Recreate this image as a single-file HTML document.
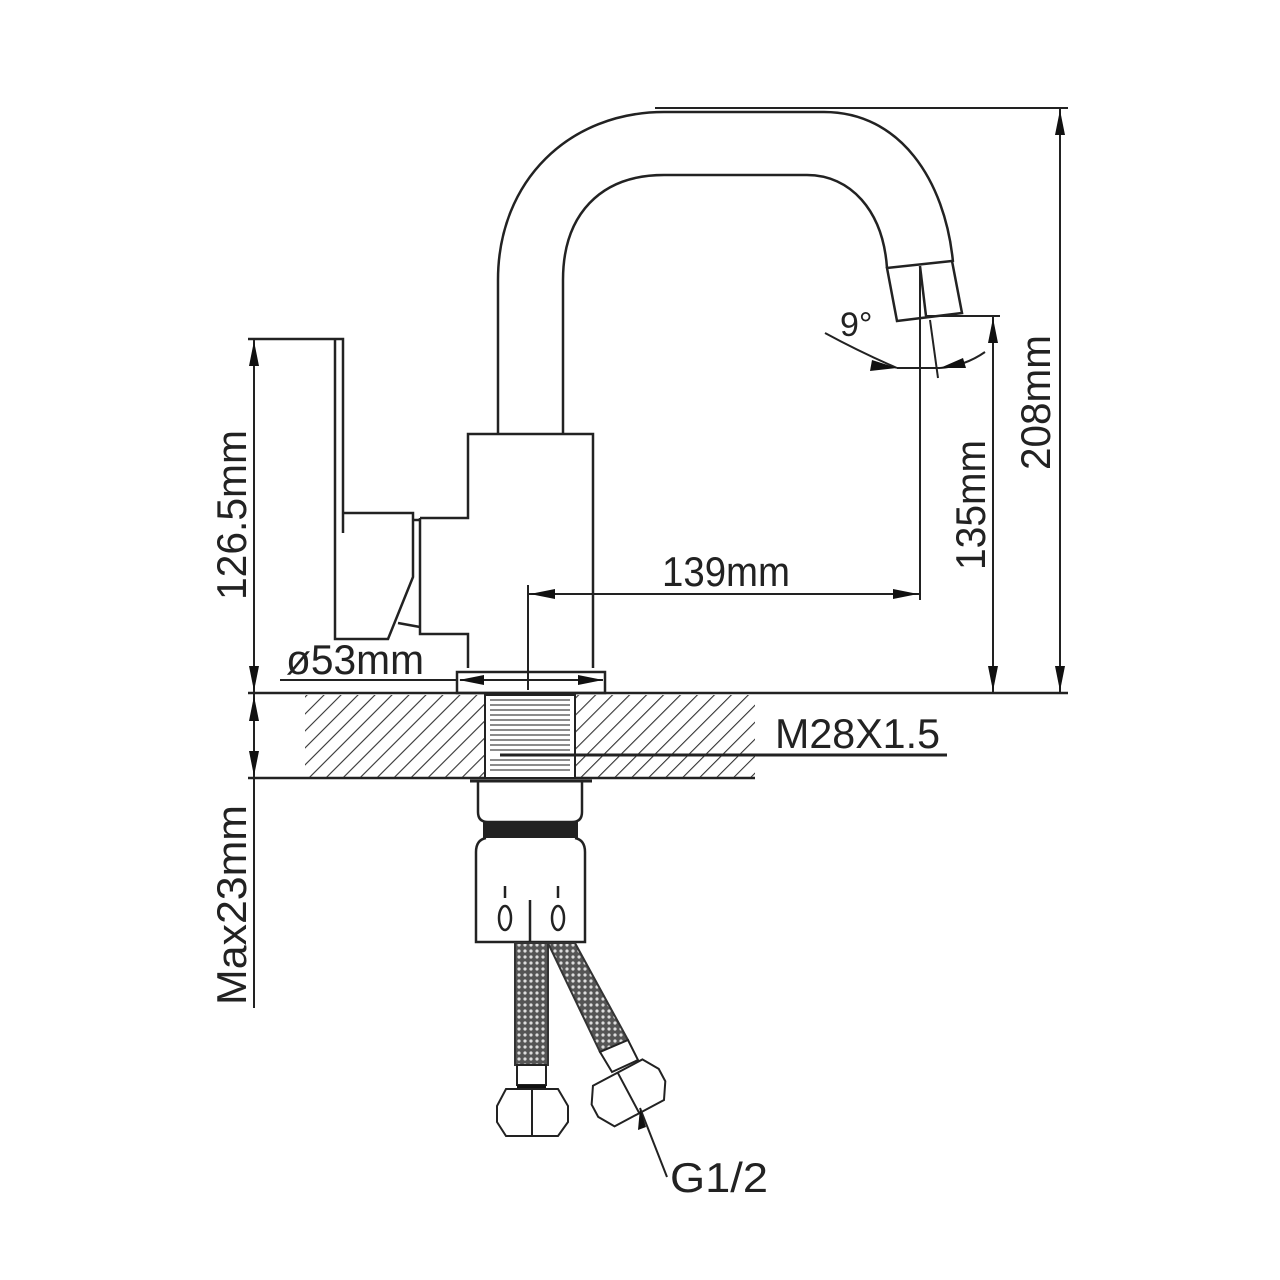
<!DOCTYPE html>
<html><head><meta charset="utf-8"><style>
html,body{margin:0;padding:0;background:#fff;}
svg{display:block;}
text{font-family:"Liberation Sans",sans-serif;fill:#222;}
</style></head><body>
<svg width="1280" height="1280" viewBox="0 0 1280 1280" xmlns="http://www.w3.org/2000/svg">
<defs>
<pattern id="hatch" patternUnits="userSpaceOnUse" width="12" height="12" patternTransform="rotate(45)">
<line x1="0" y1="0" x2="0" y2="12" stroke="#333" stroke-width="2.2"/>
</pattern>
<pattern id="braid" patternUnits="userSpaceOnUse" width="6" height="6">
<rect width="6" height="6" fill="#555"/>
<circle cx="3" cy="3" r="1.6" fill="#ddd"/>
</pattern>
</defs>
<g fill="none" stroke="#222" stroke-width="2.5">
<path d="M498,434 V280 C498,180 570,112 664,112 H824 C900,112 945,180 953,262"/>
<path d="M563,434 V280 C563,215 600,175 664,175 H807 C850,175 883,210 887,268"/>
<polygon points="887,268 952,261 962,313 897,321"/>
<line x1="920" y1="266" x2="926" y2="316"/>
<path d="M420,518 H468 V434 H593 V668"/>
<path d="M420,518 V634 H468 V668"/>
<path d="M248,339 H343 V533"/>
<path d="M335,339 V639 H388 L413,577 V513 H343"/>
<line x1="413" y1="520" x2="420" y2="520"/>
<line x1="398" y1="623" x2="420" y2="627"/>
<rect x="457" y="672" width="148" height="21"/>
<line x1="248" y1="693" x2="1068" y2="693"/>
<line x1="248" y1="778" x2="755" y2="778"/>
</g>
<rect x="305" y="695" width="450" height="82" fill="url(#hatch)"/>
<rect x="485" y="695" width="90" height="83" fill="#fff" stroke="#222" stroke-width="2"/>
<g stroke="#666" stroke-width="1.5">
<line x1="490" y1="700" x2="570" y2="700"/><line x1="490" y1="705" x2="570" y2="705"/><line x1="490" y1="710" x2="570" y2="710"/><line x1="490" y1="715" x2="570" y2="715"/><line x1="490" y1="720" x2="570" y2="720"/><line x1="490" y1="725" x2="570" y2="725"/><line x1="490" y1="730" x2="570" y2="730"/><line x1="490" y1="735" x2="570" y2="735"/><line x1="490" y1="740" x2="570" y2="740"/><line x1="490" y1="745" x2="570" y2="745"/><line x1="490" y1="750" x2="570" y2="750"/><line x1="490" y1="760" x2="570" y2="760"/><line x1="490" y1="765" x2="570" y2="765"/><line x1="490" y1="770" x2="570" y2="770"/>
</g>
<line x1="500" y1="755" x2="947" y2="755" stroke="#222" stroke-width="3"/>
<g fill="none" stroke="#222" stroke-width="2.5">
<line x1="470" y1="781" x2="592" y2="781" stroke-width="3"/>
<path d="M478,782 V812 Q478,822 488,822 H572 Q582,822 582,812 V782"/>
<path d="M486,838 Q476,840 476,852 V942 H585 V852 Q585,840 575,838"/>
<line x1="530" y1="900" x2="530" y2="942"/>
<line x1="505" y1="886" x2="505" y2="898"/><line x1="558" y1="886" x2="558" y2="898"/>
<ellipse cx="505" cy="918" rx="6" ry="12"/><ellipse cx="558" cy="918" rx="6" ry="12"/>
</g>
<rect x="483" y="822" width="95" height="16" fill="#222"/>
<rect x="515" y="943" width="33" height="122" fill="url(#braid)" stroke="#333" stroke-width="2"/>
<rect x="517" y="1065" width="29" height="20" fill="#fff" stroke="#222" stroke-width="2"/>
<line x1="517" y1="1087" x2="546" y2="1087" stroke="#111" stroke-width="4"/>
<polygon points="548,943 575,943 628,1040 600,1052" fill="url(#braid)" stroke="#333" stroke-width="2"/>
<polygon points="600,1052 628,1040 638,1060 612,1072" fill="#fff" stroke="#222" stroke-width="2"/>
<g fill="#fff" stroke="#222" stroke-width="2">
<polygon points="506,1089 558,1089 568,1106 568,1122 558,1136 506,1136 497,1122 497,1106"/>
<line x1="532" y1="1089" x2="532" y2="1136"/>
<g transform="rotate(-28 628 1092)"><polygon points="600,1070 656,1070 666,1086 666,1100 656,1116 600,1116 590,1100 590,1086"/><line x1="628" y1="1070" x2="628" y2="1116"/></g>
</g>
<g stroke="#222" stroke-width="2" fill="none">
<line x1="1060" y1="108" x2="1060" y2="693"/>
<line x1="655" y1="108" x2="1068" y2="108"/>
<line x1="993" y1="316" x2="993" y2="693"/>
<line x1="925" y1="316" x2="1000" y2="316"/>
<line x1="920" y1="268" x2="920" y2="600"/>
<line x1="528" y1="585" x2="528" y2="690"/>
<line x1="528" y1="594" x2="920" y2="594"/>
<line x1="254" y1="339" x2="254" y2="693"/>
<line x1="254" y1="693" x2="254" y2="1008"/>
<line x1="280" y1="680" x2="457" y2="680"/>
<line x1="460" y1="680" x2="603" y2="680"/>
<line x1="930" y1="320" x2="938" y2="378"/>
<path d="M825,333 Q860,352 897,368"/>
<path d="M985,352 Q965,366 940,368"/>
<line x1="897" y1="368" x2="940" y2="368"/>
<line x1="640" y1="1108" x2="667" y2="1177"/>
</g>
<g fill="#111">
<path d="M1060,110 L1055,135 L1065,135 Z"/><path d="M1060,691 L1055,666 L1065,666 Z"/>
<path d="M993,318 L988,343 L998,343 Z"/><path d="M993,691 L988,666 L998,666 Z"/>
<path d="M530,594 L555,589 L555,599 Z"/><path d="M918,594 L893,589 L893,599 Z"/>
<path d="M254,341 L249,366 L259,366 Z"/><path d="M254,691 L249,666 L259,666 Z"/>
<path d="M254,696 L249,721 L259,721 Z"/><path d="M254,776 L249,751 L259,751 Z"/>
<path d="M459,680 L484,675 L484,685 Z"/><path d="M603,680 L578,675 L578,685 Z"/>
<path d="M897,368 L872,360 L870,371 Z"/><path d="M940,368 L963,358 L966,368 Z"/>
<path d="M640,1108 L638,1130 L646,1127 Z"/>
</g>
<text x="662" y="586" font-size="42" textLength="128" lengthAdjust="spacingAndGlyphs">139mm</text>
<text x="775" y="748" font-size="42" textLength="165" lengthAdjust="spacingAndGlyphs">M28X1.5</text>
<text x="670" y="1192" font-size="42" textLength="98" lengthAdjust="spacingAndGlyphs">G1/2</text>
<text x="286" y="674" font-size="42" textLength="138" lengthAdjust="spacingAndGlyphs">ø53mm</text>
<text x="840" y="336" font-size="34">9°</text>
<text transform="translate(1050,470) rotate(-90)" font-size="42" textLength="135" lengthAdjust="spacingAndGlyphs">208mm</text>
<text transform="translate(985,570) rotate(-90)" font-size="42" textLength="130" lengthAdjust="spacingAndGlyphs">135mm</text>
<text transform="translate(246,600) rotate(-90)" font-size="42" textLength="170" lengthAdjust="spacingAndGlyphs">126.5mm</text>
<text transform="translate(246,1005) rotate(-90)" font-size="42" textLength="200" lengthAdjust="spacingAndGlyphs">Max23mm</text>
</svg>
</body></html>
